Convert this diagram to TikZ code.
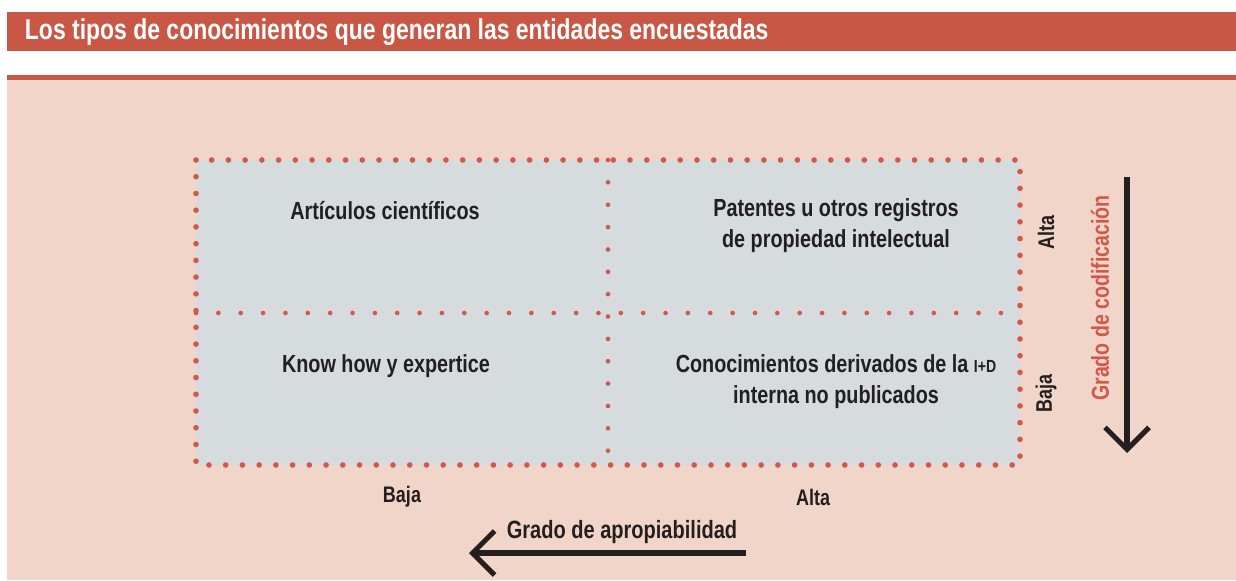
\documentclass[tikz,border=0pt]{standalone}
\usepackage{fontspec}
\setmainfont{Liberation Sans}[FakeStretch=0.80]
\usetikzlibrary{arrows.meta}

\definecolor{titlered}{RGB}{201,87,70}
\definecolor{panelpink}{RGB}{242,213,201}
\definecolor{cellgrey}{RGB}{214,219,222}
\definecolor{dotred}{RGB}{210,88,74}
\definecolor{inkblack}{RGB}{35,31,32}

\tikzset{
  outerdots/.style={dotred, line width=4pt, line cap=round, dash pattern=on 0pt off 11.9pt},
  innerdots/.style={dotred, line width=3.3pt, line cap=round, dash pattern=on 0pt off 15.9pt},
  celltext/.style={font=\bfseries\fontsize{17.6}{22}\selectfont, text=inkblack, align=center},
  levellabel/.style={font=\bfseries\fontsize{16}{20}\selectfont, text=inkblack},
  bigarrow/.style={inkblack, line width=3.6pt, -{Straight Barb[length=0.55cm, width=1.1cm, line width=3.6pt]}}
}

\begin{document}
\begin{tikzpicture}[x=0.025cm, y=-0.025cm]
    \useasboundingbox (0,0) rectangle (1236,580);

    % title bar
    \fill[titlered] (7,12) rectangle (1236,51);
    \node[anchor=west, text=white, font=\bfseries\fontsize{20.4}{22}\selectfont] (title) at (20,32)
        {Los tipos de conocimientos que generan las entidades encuestadas};

    % panel
    \fill[titlered] (7,75) rectangle (1236,80);
    \fill[panelpink] (7,80) rectangle (1236,580);

    % grid corners
    \coordinate (NW) at (196,160);
    \coordinate (SE) at (1020,465);
    \coordinate (Ntop) at (608,160);
    \coordinate (Nbot) at (608,465);
    \coordinate (Wmid) at (196,313);
    \coordinate (Emid) at (1020,313);

    % cells
    \fill[cellgrey] (NW) rectangle (SE);
    \draw[innerdots] (Ntop) -- (Nbot);
    \draw[innerdots] (Wmid) -- (Emid);
    \draw[outerdots] (NW) rectangle (SE);

    % cell texts
    \node[celltext] (art) at (385,211) {Artículos científicos};
    \node[celltext] (pat) at (836,226) {Patentes u otros registros\\de propiedad intelectual};
    \node[celltext] (know) at (386,366) {Know how y expertice};
    \node[celltext] (conoc) at (836,382)
        {Conocimientos derivados de la {\fontsize{12.5}{14}\selectfont I+D}\\interna no publicados};

    % vertical axis
    \node[levellabel, rotate=90] (altaV) at (1046,232) {Alta};
    \node[levellabel, rotate=90] (bajaV) at (1046,393) {Baja};
    \node[rotate=90, text=dotred, font=\bfseries\fontsize{17.4}{20}\selectfont] (codif) at (1100,298)
        {Grado de codificación};
    \coordinate (codTop) at (1127,177);
    \coordinate (codBot) at (1127,453);
    \draw[bigarrow] (codTop) -- (codBot);

    % horizontal axis
    \node[levellabel] (bajaH) at (402,497) {Baja};
    \node[levellabel] (altaH) at (813,497) {Alta};
    \node[levellabel, font=\bfseries\fontsize{17.8}{20}\selectfont] (apro) at (622,532)
        {Grado de apropiabilidad};
    \coordinate (aproR) at (746,553);
    \coordinate (aproL) at (469,553);
    \draw[bigarrow] (aproR) -- (aproL);
\end{tikzpicture}
\end{document}
